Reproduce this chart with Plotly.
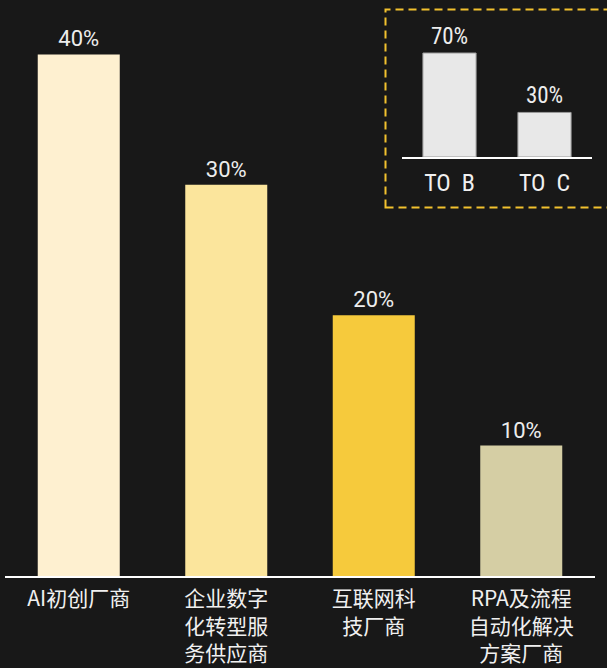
import plotly.graph_objects as go

categories = ["AI初创厂商", "企业数字<br>化转型服<br>务供应商", "互联网科<br>技厂商", "RPA及流程<br>自动化解决<br>方案厂商"]
values = [40, 30, 20, 10]
bar_colors = ["#FEF0D0", "#FBE59C", "#F6CA3C", "#D5CEA4"]

inset_categories = ["TO  B", "TO  C"]
inset_values = [70, 30]

W, H = 607, 668
def px(x): return x / W
def py(y): return (H - y) / H

fig = go.Figure()
fig.add_trace(go.Bar(
    x=categories, y=values, marker=dict(color=bar_colors, line=dict(width=0)),
    text=[f"{v}%" for v in values], textposition="outside",
    textfont=dict(family="Roboto, Noto Sans", size=22, color="#EDEDED"),
    cliponaxis=False, xaxis="x", yaxis="y", showlegend=False,
))
fig.add_trace(go.Bar(
    x=inset_categories, y=inset_values, width=0.56,
    marker=dict(color="#E8E8E8", line=dict(width=1, color="#9A9A9A")),
    text=[f"{v}%" for v in inset_values], textposition="outside",
    textfont=dict(family="Roboto Condensed, DejaVu Sans Condensed, Roboto", size=23, color="#EDEDED"),
    cliponaxis=False, xaxis="x2", yaxis="y2", showlegend=False,
))

main_zero = 576
fig.update_layout(
    width=W, height=H,
    margin=dict(l=0, r=0, t=0, b=0),
    paper_bgcolor="#181818", plot_bgcolor="rgba(0,0,0,0)",
    bargap=0.444,
    xaxis=dict(domain=[px(5), px(595)], showline=True, linecolor="#FFFFFF", linewidth=2,
               showgrid=False, zeroline=False, ticks="", automargin=False,
               ticklabelstandoff=3,
               tickfont=dict(family="Noto Sans CJK SC", size=21, color="#F0F0F0")),
    yaxis=dict(domain=[py(main_zero), 1], range=[0, main_zero / 13.04],
               visible=False, showgrid=False, zeroline=False),
    xaxis2=dict(domain=[px(402), px(592)], anchor="y2", showline=True, linecolor="#FFFFFF",
                linewidth=2, showgrid=False, zeroline=False, ticks="", automargin=False,
                ticklabelstandoff=3,
                tickfont=dict(family="Roboto Condensed, DejaVu Sans Condensed, Roboto", size=24, color="#F0F0F0")),
    yaxis2=dict(domain=[py(157), py(10)], range=[0, 70 * 147 / 104], anchor="x2",
                visible=False, showgrid=False, zeroline=False),
    shapes=[dict(type="rect", xref="paper", yref="paper",
                 x0=px(385.5), x1=px(640), y0=py(207.5), y1=py(9.5),
                 line=dict(color="#F2C12E", width=2, dash="8px,5px"),
                 fillcolor="rgba(0,0,0,0)")],
)
fig.write_html("out.html", config={"displayModeBar": False},
               post_script="document.body.style.margin='0';document.body.style.background='#181818';")
